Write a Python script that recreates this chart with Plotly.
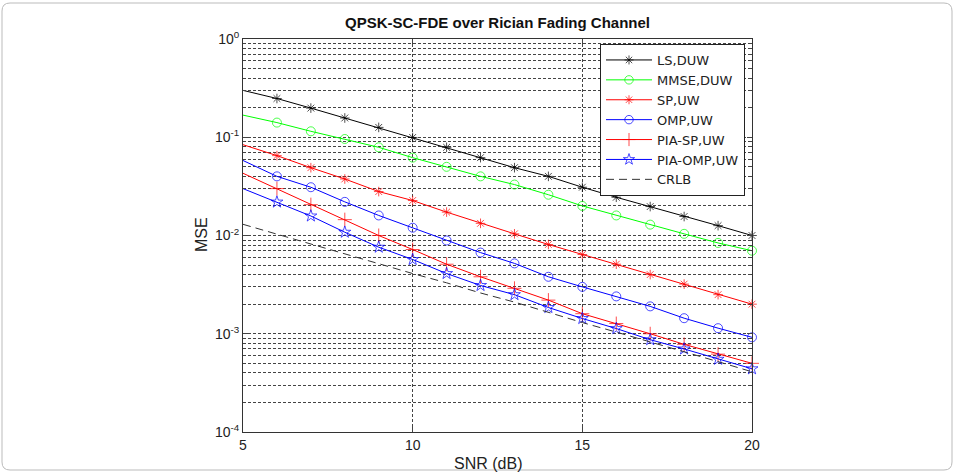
import plotly.graph_objects as go

snr = [5, 6, 7, 8, 9, 10, 11, 12, 13, 14, 15, 16, 17, 18, 19, 20]

ls_duw = [0.30, 0.248, 0.198, 0.157, 0.126, 0.0995, 0.079, 0.062, 0.049, 0.040, 0.031, 0.0245, 0.0197, 0.0156, 0.0126, 0.0100]
mmse_duw = [0.168, 0.141, 0.115, 0.096, 0.079, 0.062, 0.050, 0.040, 0.033, 0.026, 0.020, 0.016, 0.0129, 0.0104, 0.0084, 0.0070]
sp_uw = [0.084, 0.065, 0.049, 0.0376, 0.028, 0.0227, 0.0173, 0.0133, 0.0104, 0.0081, 0.0064, 0.0051, 0.0040, 0.0032, 0.0025, 0.0020]
omp_uw = [0.058, 0.040, 0.031, 0.022, 0.016, 0.012, 0.0089, 0.0067, 0.0052, 0.0038, 0.0030, 0.0024, 0.0019, 0.00144, 0.00114, 0.00092]
pia_sp_uw = [0.043, 0.030, 0.0206, 0.0145, 0.0100, 0.0072, 0.0051, 0.0038, 0.0029, 0.0022, 0.0016, 0.00127, 0.00100, 0.00078, 0.00062, 0.00050]
pia_omp_uw = [0.030, 0.0219, 0.0158, 0.0108, 0.0076, 0.0057, 0.0041, 0.0031, 0.0025, 0.00185, 0.00143, 0.00113, 0.00087, 0.00070, 0.00055, 0.00044]
crlb = [0.0130, 0.0103, 0.0082, 0.0065, 0.0052, 0.0041, 0.0033, 0.0026, 0.0021, 0.00165, 0.0013, 0.00104, 0.00083, 0.00066, 0.00052, 0.00041]

y_major = [1e-4, 1e-3, 1e-2, 1e-1, 1]
y_major_text = ["10<sup>-4</sup>", "10<sup>-3</sup>", "10<sup>-2</sup>", "10<sup>-1</sup>", "10<sup>0</sup>"]
x_ticks = [5, 10, 15, 20]

FONT = "Liberation Sans, Arial, sans-serif"

# plot area in pixels
L, R, T, B = 243, 752, 39, 432
PW, PH = R - L, B - T

series = [
    ("LS,DUW", ls_duw, "#000000", "asterisk-open", 8),
    ("MMSE,DUW", mmse_duw, "#00ff00", "circle-open", 9),
    ("SP,UW", sp_uw, "#ff0000", "asterisk-open", 8),
    ("OMP,UW", omp_uw, "#0000ff", "circle-open", 9),
    ("PIA-SP,UW", pia_sp_uw, "#ff0000", "cross-thin-open", 10),
    ("PIA-OMP,UW", pia_omp_uw, "#0000ff", "star-open", 9),
]

fig = go.Figure()
for name, vals, color, sym, sz in series:
    sizes = [0] + [sz] * (len(snr) - 1)
    fig.add_trace(go.Scatter(
        x=snr, y=vals, name=name, mode="lines+markers",
        line=dict(color=color, width=1),
        marker=dict(symbol=sym, size=sizes, color=color, line=dict(color=color, width=1)),
        cliponaxis=False,
    ))

fig.add_trace(go.Scatter(
    x=snr, y=crlb, name="CRLB", mode="lines",
    line=dict(color="#333333", width=1, dash="8px,5px"),
))

minor_vals = []
for k in range(-4, 0):
    for m in range(2, 10):
        minor_vals.append(m * 10 ** k)

fig.update_layout(
    width=955, height=472,
    margin=dict(l=L, r=955 - R, t=T, b=472 - B, autoexpand=False),
    paper_bgcolor="white", plot_bgcolor="white",
    font=dict(family=FONT, size=14, color="#222"),
    title=dict(text="<b>QPSK-SC-FDE over Rician Fading Channel</b>",
               x=(L + R) / 2 / 955, xanchor="center", y=1 - 23 / 472, yanchor="middle",
               font=dict(size=15, color="#111")),
    showlegend=True,
    legend=dict(x=(745 - L) / PW, xanchor="right", xref="paper", y=1 - 5 / PH, yanchor="top",
                bgcolor="white", bordercolor="#222", borderwidth=1,
                font=dict(family="DejaVu Sans, sans-serif", size=13, color="#222"),
                itemwidth=46, tracegroupgap=0, traceorder="normal"),
    xaxis=dict(range=[5, 20], tickvals=x_ticks, ticks="inside", ticklen=5,
               showline=True, linecolor="#333", linewidth=1, mirror="ticks",
               showgrid=True, gridcolor="#444", griddash="3px,2px", gridwidth=1,
               zeroline=False, tickfont=dict(size=14), ticklabelstandoff=0,
               automargin=False),
    yaxis=dict(type="log", range=[-4, 0], tickvals=y_major, ticktext=y_major_text,
               ticks="inside", ticklen=5,
               showline=True, linecolor="#333", linewidth=1, mirror="ticks",
               showgrid=True, gridcolor="#444", griddash="3px,2px", gridwidth=1,
               zeroline=False, tickfont=dict(size=14),
               minor=dict(tickvals=minor_vals, ticks="inside", ticklen=3,
                          showgrid=True, gridcolor="#444", griddash="3px,2px", gridwidth=1),
               automargin=False),
    annotations=[
        dict(text="SNR (dB)", xref="paper", yref="paper",
             x=(488 - L) / PW, y=-(463 - B) / PH, xanchor="center", yanchor="middle",
             showarrow=False, font=dict(size=16, color="#222")),
        dict(text="MSE", xref="paper", yref="paper", textangle=-90,
             x=-(L - 201) / PW, y=1 - (235 - T) / PH, xanchor="center", yanchor="middle",
             showarrow=False, font=dict(size=16, color="#222")),
    ],
)

# thin rounded frame around the whole image
def px(xp):
    return (xp - L) / PW

def py(yp):
    return 1 - (yp - T) / PH

x0, x1, y0, y1, rr = 2, 952, 3, 470, 8
path = ("M {a} {b} L {c} {b} Q {d} {b} {d} {e} L {d} {f} Q {d} {g} {c} {g} "
        "L {a} {g} Q {h} {g} {h} {f} L {h} {e} Q {h} {b} {a} {b} Z").format(
    a=px(x0 + rr), b=py(y0), c=px(x1 - rr), d=px(x1), e=py(y0 + rr),
    f=py(y1 - rr), g=py(y1), h=px(x0))
fig.add_shape(type="path", xref="paper", yref="paper", path=path,
              line=dict(color="#bbbbbb", width=1), layer="below")

fig.write_html("out.html")
